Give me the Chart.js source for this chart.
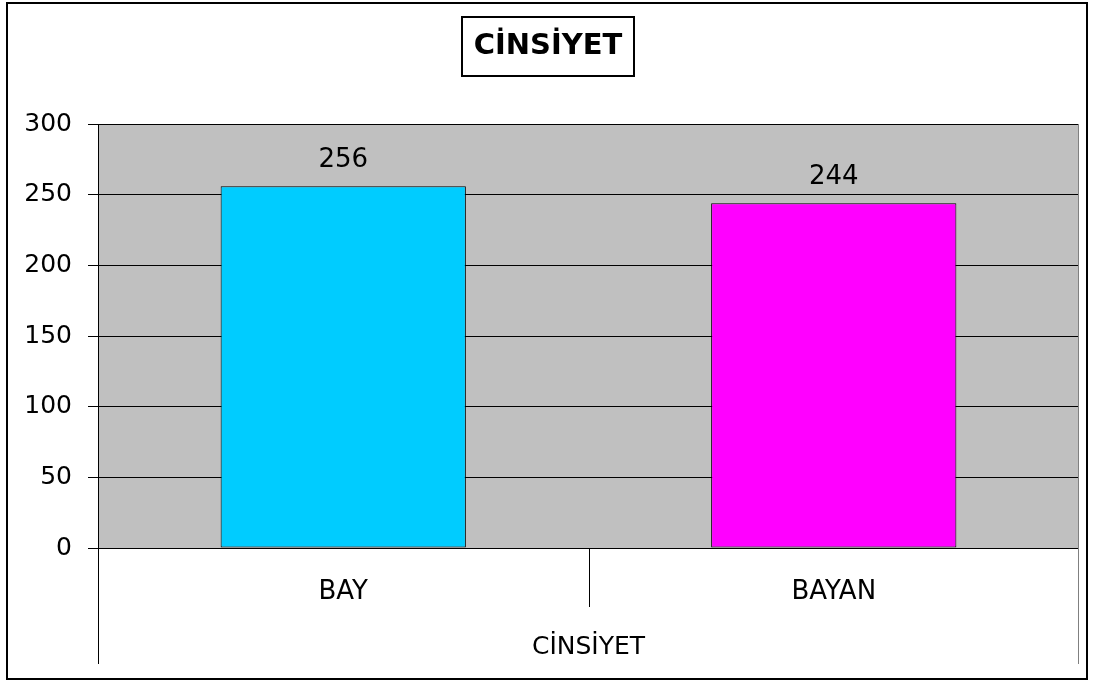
<!DOCTYPE html>
<html>
<head>
<meta charset="utf-8">
<title>CİNSİYET</title>
<script src="https://cdn.jsdelivr.net/npm/chart.js@4.4.1/dist/chart.umd.min.js"></script>
<style>
    html, body { margin: 0; padding: 0; background: #fff; }
    #chartBox { width: 1096px; height: 682px; }
</style>
</head>
<body>
<div id="chartBox"><canvas id="chartCinsiyet" width="1096" height="682"></canvas></div>
<script>
// data from the picture
const categories = ['BAY', 'BAYAN'];
const counts = [256, 244];
const barColors = ['#00CCFF', '#FF00FF'];
const yTicks = [0, 50, 100, 150, 200, 250, 300];
const chartTitle = 'CİNSİYET';
const groupLabel = 'CİNSİYET';

const FONT = "'DejaVu Sans', sans-serif";

/**
 * gray plot background, outer frame, title box, labels and the category dividers
 */
const excelLook = {
    id: 'excelLook',
    beforeDraw(chart) {
        const { ctx, chartArea: a } = chart;
        ctx.save();
        ctx.fillStyle = '#C0C0C0';
        ctx.fillRect(a.left, a.top, a.right - a.left, a.bottom - a.top);
        ctx.restore();
    },
    afterDatasetsDraw(chart) {
        const { ctx } = chart;
        const meta = chart.getDatasetMeta(0);
        ctx.save();
        ctx.font = `26px ${FONT}`;
        ctx.fillStyle = '#000';
        ctx.textAlign = 'center';
        ctx.textBaseline = 'middle';
        meta.data.forEach((bar, i) => {
            ctx.fillText(String(counts[i]), bar.x, bar.y - 26);
        });
        ctx.restore();
    },
    afterDraw(chart) {
        const { ctx, chartArea: a } = chart;
        const x = chart.scales.x;
        const mid = Math.round((x.getPixelForValue(0) + x.getPixelForValue(1)) / 2) + 0.5;
        const left = Math.round(a.left) + 0.5;
        const right = Math.round(a.right) - 0.5;
        const bottom = Math.round(a.bottom);

        ctx.save();
        // right edge of the plot area
        ctx.strokeStyle = '#808080';
        ctx.lineWidth = 1;
        ctx.beginPath();
        ctx.moveTo(right, a.top);
        ctx.lineTo(right, bottom + 116);
        ctx.stroke();

        // category dividers below the axis
        ctx.strokeStyle = '#000';
        ctx.beginPath();
        ctx.moveTo(left, bottom);
        ctx.lineTo(left, bottom + 116);
        ctx.moveTo(mid, bottom);
        ctx.lineTo(mid, bottom + 59);
        ctx.stroke();

        // group label
        ctx.font = `25px ${FONT}`;
        ctx.fillStyle = '#000';
        ctx.textAlign = 'center';
        ctx.textBaseline = 'middle';
        ctx.fillText(groupLabel, (a.left + a.right) / 2, 647);

        // title with its box
        const cx = chart.width / 2;
        ctx.font = `bold 29px ${FONT}`;
        ctx.fillText(chartTitle, cx, 46);
        ctx.lineWidth = 2;
        ctx.strokeRect(462, 17, 172, 59);

        // outer frame
        ctx.strokeRect(7, 3, 1080, 676);
        ctx.restore();
    }
};

const _data = {
    labels: categories,
    datasets: [{
        label: chartTitle,
        data: counts,
        backgroundColor: barColors,
        borderColor: '#000',
        borderWidth: 1,
        borderSkipped: false,
        barPercentage: 0.5,
        categoryPercentage: 1
    }]
};

const _config = {
    type: 'bar',
    data: _data,
    options: {
        responsive: false,
        animation: false,
        devicePixelRatio: 1,
        layout: {
            padding: { top: 124, left: 0, right: 17, bottom: 0 }
        },
        plugins: {
            legend: { display: false },
            title: { display: false },
            tooltip: { enabled: false }
        },
        scales: {
            x: {
                offset: true,
                afterFit(scale) { scale.height = 134; },
                grid: { display: false },
                border: { display: false },
                ticks: {
                    color: '#000',
                    padding: 21,
                    font: { family: FONT, size: 26 }
                }
            },
            y: {
                min: 0,
                max: 300,
                afterFit(scale) { scale.width = 98; },
                afterBuildTicks(scale) {
                    scale.ticks = yTicks.map((v) => ({ value: v }));
                },
                grid: {
                    color: '#000',
                    lineWidth: 1,
                    tickLength: 10
                },
                border: { display: true, color: '#000', width: 1 },
                ticks: {
                    color: '#000',
                    padding: 16,
                    font: { family: FONT, size: 25 }
                }
            }
        }
    },
    plugins: [excelLook]
};

const chartCinsiyet = new Chart(document.getElementById('chartCinsiyet'), _config);
</script>
</body>
</html>
